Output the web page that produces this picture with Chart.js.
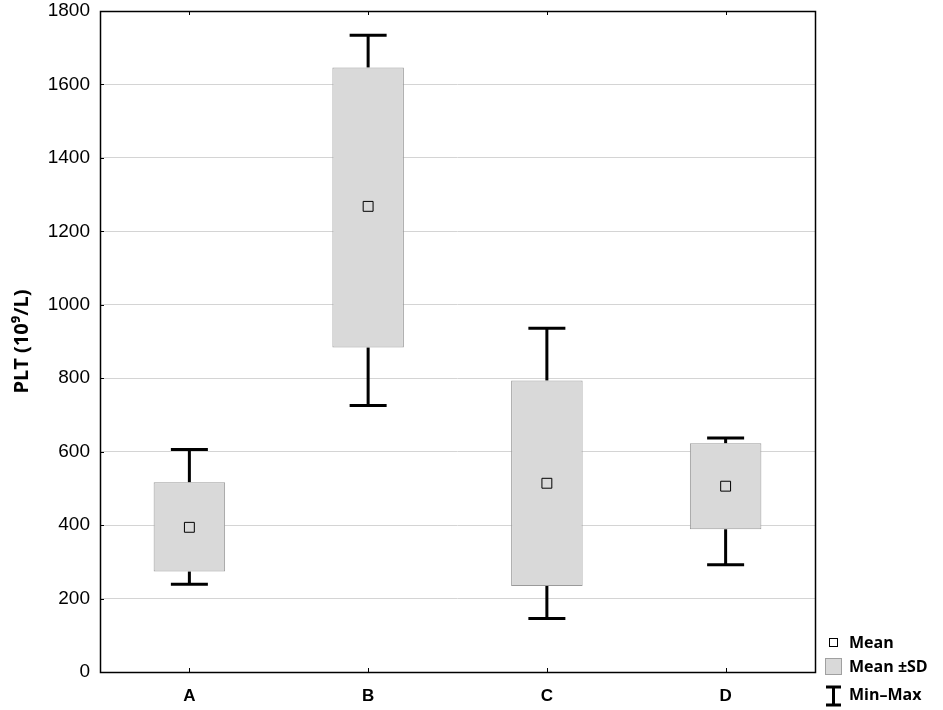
<!DOCTYPE html>
<html>
<head>
<meta charset="utf-8">
<script src="https://cdn.jsdelivr.net/npm/chart.js@4.4.1/dist/chart.umd.min.js"></script>
<style>
html,body{margin:0;padding:0;background:#fff;}
#wrap{width:943px;height:710px;position:relative;}
</style>
</head>
<body>
<div id="wrap"><canvas id="c" width="943" height="710"></canvas></div>
<script>
const categories = ['A', 'B', 'C', 'D'];
const minVals  = [239, 726, 146, 292];
const sdLow    = [274, 884, 234, 389];
const meanVals = [394, 1268, 514, 506];
const sdHigh   = [517, 1646, 794, 623];
const maxVals  = [606, 1734, 936, 637];
const yTickValues = [0, 200, 400, 600, 800, 1000, 1200, 1400, 1600, 1800];
const yTickLabels = ['0', '200', '400', '600', '800', '1000', '1200', '1400', '1600', '1800'];
const legendLabels = ['Mean', 'Mean \u00B1SD', 'Min\u2013Max'];
const yTitle = 'PLT (10\u2079/L)';

const whiskerPlugin = {
  id: 'whiskers',
  beforeDatasetsDraw(chart) {
    const ctx = chart.ctx, xs = chart.scales.x, ys = chart.scales.y;
    ctx.save();
    ctx.strokeStyle = '#000';
    ctx.lineWidth = 3;
    categories.forEach((c, i) => {
      const x = xs.getPixelForValue(i);
      const yMax = ys.getPixelForValue(maxVals[i]);
      const yMin = ys.getPixelForValue(minVals[i]);
      const yHi = ys.getPixelForValue(sdHigh[i]);
      const yLo = ys.getPixelForValue(sdLow[i]);
      ctx.beginPath();
      ctx.moveTo(x, yMax); ctx.lineTo(x, yHi);
      ctx.moveTo(x, yLo); ctx.lineTo(x, yMin);
      ctx.moveTo(x - 18.5, yMax); ctx.lineTo(x + 18.5, yMax);
      ctx.moveTo(x - 18.5, yMin); ctx.lineTo(x + 18.5, yMin);
      ctx.stroke();
    });
    ctx.restore();
  },
  afterDatasetsDraw(chart) {
    const ctx = chart.ctx, a = chart.chartArea, xs = chart.scales.x, ys = chart.scales.y;
    ctx.save();
    ctx.strokeStyle = '#000';
    ctx.lineWidth = 1;
    ctx.beginPath();
    yTickValues.forEach(v => {
      const y = Math.round(ys.getPixelForValue(v)) + 0.5;
      ctx.moveTo(a.left, y); ctx.lineTo(a.left + 4, y);
    });
    categories.forEach((c, i) => {
      const x = Math.round(xs.getPixelForValue(i)) + 0.5;
      ctx.moveTo(x, a.top); ctx.lineTo(x, a.top + 4);
      ctx.moveTo(x, a.bottom); ctx.lineTo(x, a.bottom - 4);
    });
    ctx.stroke();
    ctx.lineWidth = 1.5;
    ctx.strokeRect(Math.round(a.left) + 0.5, Math.round(a.top) + 0.5, Math.round(a.right - a.left), Math.round(a.bottom - a.top));
    // legend
    ctx.font = 'bold 16px "Open Sans", sans-serif';
    ctx.textBaseline = 'middle';
    ctx.textAlign = 'left';
    ctx.lineWidth = 1;
    ctx.strokeStyle = '#000';
    ctx.fillStyle = '#fff';
    ctx.fillRect(829.5, 638.5, 8, 8);
    ctx.strokeRect(829.5, 638.5, 8, 8);
    ctx.fillStyle = '#d9d9d9';
    ctx.fillRect(825.5, 658.5, 16, 16);
    ctx.strokeStyle = '#a0a0a0';
    ctx.strokeRect(825.5, 658.5, 16, 16);
    ctx.strokeStyle = '#000';
    ctx.lineWidth = 3;
    ctx.beginPath();
    ctx.moveTo(826, 687); ctx.lineTo(841, 687);
    ctx.moveTo(833.5, 687); ctx.lineTo(833.5, 705);
    ctx.moveTo(826, 705); ctx.lineTo(841, 705);
    ctx.stroke();
    ctx.fillStyle = '#000';
    ctx.fillText(legendLabels[0], 849, 643);
    ctx.fillText(legendLabels[1], 849, 667);
    ctx.fillText(legendLabels[2], 849, 695);
    ctx.restore();
  }
};

new Chart(document.getElementById('c'), {
  data: {
    labels: categories,
    datasets: [
      {
        type: 'bar',
        label: legendLabels[1],
        data: categories.map((c, i) => [sdLow[i], sdHigh[i]]),
        backgroundColor: '#d9d9d9',
        borderColor: '#9a9a9a',
        borderWidth: 1,
        borderSkipped: false,
        categoryPercentage: 1,
        barPercentage: 0.4,
        order: 2
      },
      {
        type: 'line',
        label: legendLabels[0],
        data: meanVals,
        showLine: false,
        pointStyle: 'rect',
        pointRadius: 7,
        pointBorderWidth: 1,
        pointBorderColor: '#000',
        pointBackgroundColor: 'rgba(0,0,0,0)',
        order: 1
      }
    ]
  },
  options: {
    responsive: false,
    animation: false,
    events: [],
    layout: { padding: { top: 11, right: 128, bottom: 0, left: 0 } },
    plugins: { legend: { display: false }, tooltip: { enabled: false } },
    scales: {
      x: {
        type: 'category',
        grid: { display: false, drawTicks: false },
        border: { display: false },
        ticks: { color: '#000', padding: 14, font: { family: '"Liberation Sans", Arial, sans-serif', size: 17, weight: 'bold' } },
        afterFit(scale) { scale.height = 38; scale.paddingLeft = 0; scale.paddingRight = 0; }
      },
      y: {
        min: 0, max: 1800,
        afterBuildTicks(scale) { scale.ticks = yTickValues.map(v => ({ value: v })); },
        grid: { color: '#d4d4d4', lineWidth: 1, drawTicks: false },
        border: { display: false },
        ticks: {
          color: '#000', padding: 10,
          font: { family: '"Liberation Sans", Arial, sans-serif', size: 19 },
          callback: (v) => yTickLabels[yTickValues.indexOf(v)]
        },
        title: { display: true, text: yTitle, color: '#000', padding: { top: 10, bottom: 0 }, font: { family: '"Open Sans", sans-serif', size: 20, weight: 'bold' } },
        afterFit(scale) { scale.width = 100; scale.paddingTop = 0; scale.paddingBottom = 0; }
      }
    }
  },
  plugins: [whiskerPlugin]
});
</script>
</body>
</html>
